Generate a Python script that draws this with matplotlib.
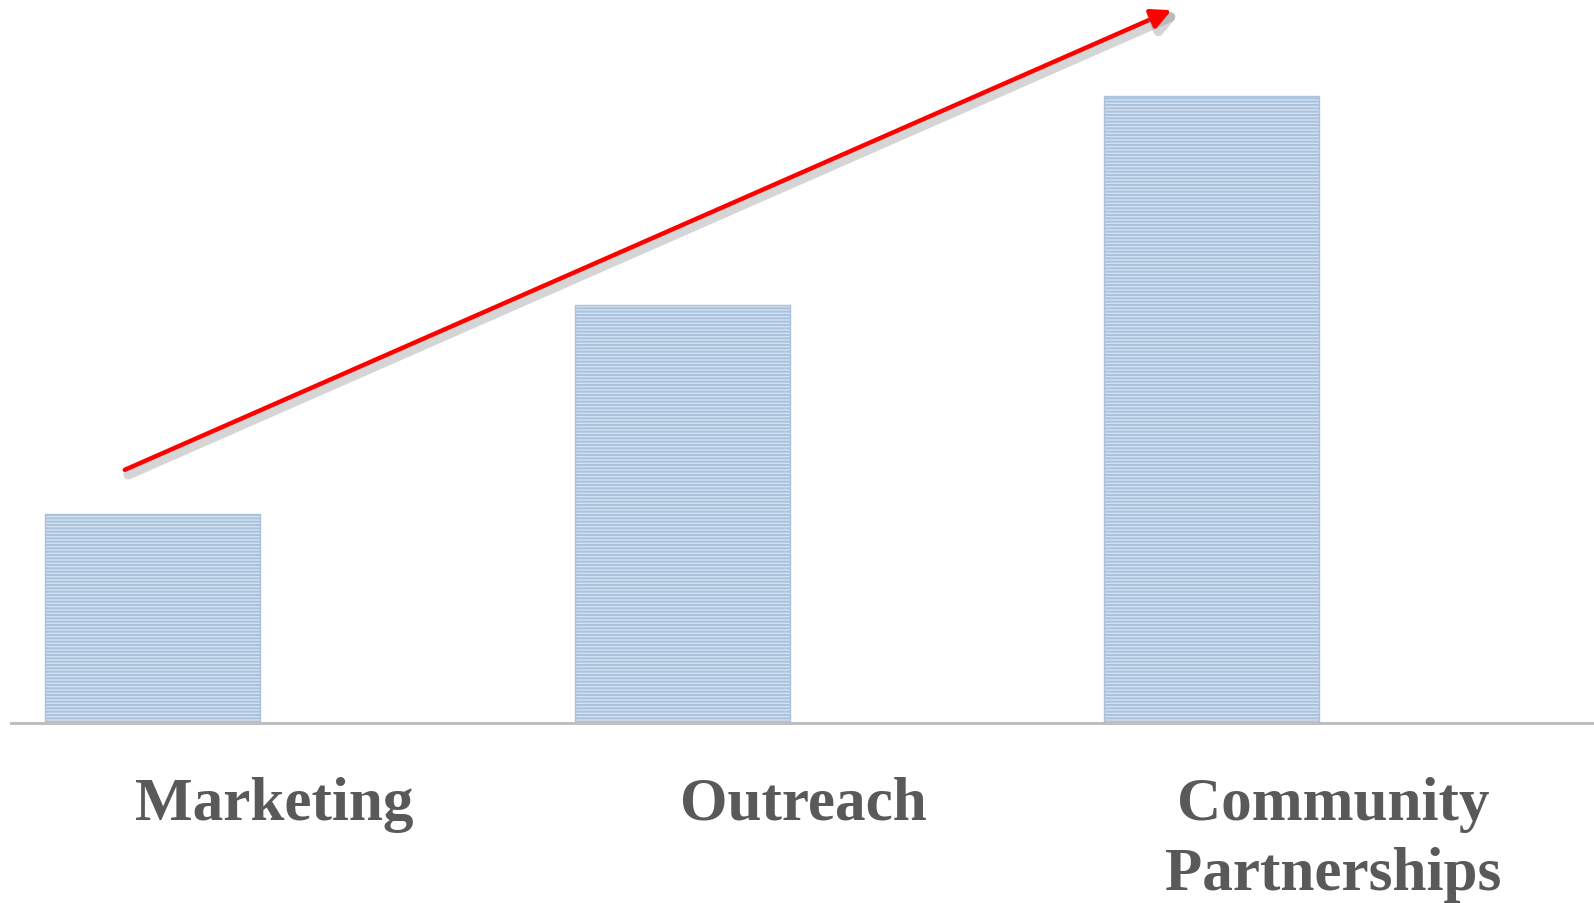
import numpy as np
import matplotlib.pyplot as plt
import matplotlib.patheffects as pe

# categories and values
categories = ['Marketing', 'Outreach', 'Community\nPartnerships']
values = [1, 2, 3]

plt.rcParams['hatch.linewidth'] = 1.4
plt.rcParams['hatch.color'] = '#8eadd2'

fig = plt.figure(figsize=(15.94, 9.04), dpi=100)
ax = fig.add_axes([11/1594, 180/904, 1583/1594, 724/904])

x = np.arange(len(categories))
ax.bar(x, values, width=0.406, color='#d3e1f0', edgecolor='#a9c2de',
       linewidth=1.0, hatch='-----')

ax.set_xlim(-0.267, 2.722)
ax.set_ylim(0, 3.464)

# only the baseline
for s in ['top', 'left', 'right']:
    ax.spines[s].set_visible(False)
ax.spines['bottom'].set_color('#bfbfbf')
ax.spines['bottom'].set_linewidth(2.2)
ax.set_yticks([])

# labels sit a bit right of each bar
ax.set_xticks(x + 0.23)
ax.set_xticklabels(categories, fontsize=44, fontweight='bold',
                   family='Liberation Serif', color='#595959',
                   linespacing=1.32)
ax.tick_params(axis='x', length=0, pad=38)

# rising trend arrow with a soft shadow
ax.annotate('', xy=(1.929, 3.416), xytext=(-0.057, 1.206),
            arrowprops=dict(arrowstyle='-|>', color='#ff0000', lw=3.2,
                            mutation_scale=30,
                            path_effects=[pe.SimpleLineShadow(offset=(2.5, -3.5), shadow_color='#888888', alpha=0.35, linewidth=7),
                                          pe.Normal()]))

fig.savefig('out.png', dpi=100)
